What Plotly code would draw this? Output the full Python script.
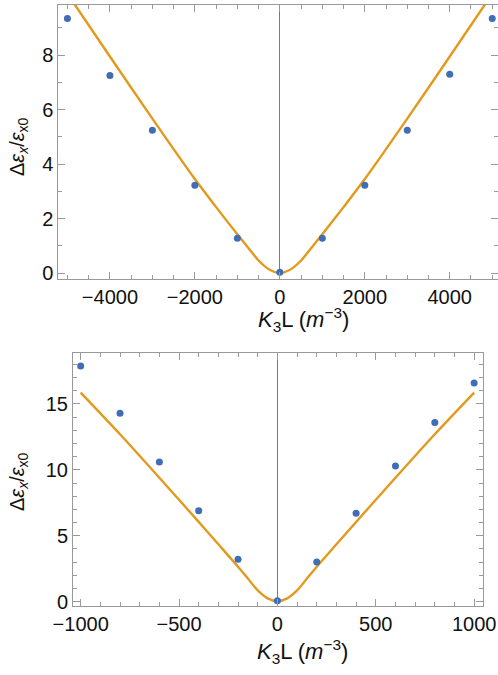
import plotly.graph_objects as go

# ---- data ----
k_top = [-5000, -4000, -3000, -2000, -1000, 0, 1000, 2000, 3000, 4000, 5000]
eps_top = [9.34, 7.25, 5.24, 3.22, 1.28, 0.03, 1.28, 3.22, 5.24, 7.30, 9.34]

fit_top_k = [-5000, -4000, -3000, -2000, -1500, -1000, -750, -500, -250, 0,
             250, 500, 750, 1000, 1500, 2000, 3000, 4000, 5000]
fit_top_eps = [10.25, 7.95, 5.67, 3.45, 2.42, 1.42, 0.94, 0.46, 0.13, 0.0,
               0.13, 0.46, 0.94, 1.42, 2.42, 3.45, 5.67, 7.95, 10.25]

k_bot = [-1000, -800, -600, -400, -200, 0, 200, 400, 600, 800, 1000]
eps_bot = [17.88, 14.29, 10.6, 6.9, 3.22, 0.06, 3.01, 6.7, 10.3, 13.6, 16.6]

fit_bot_k = [-1000, -800, -600, -400, -300, -200, -150, -100, -50, 0,
             50, 100, 150, 200, 300, 400, 600, 800, 1000]
fit_bot_eps = [15.86, 12.7, 9.4, 6.05, 4.35, 2.65, 1.75, 0.85, 0.25, 0.03,
               0.25, 0.85, 1.75, 2.65, 4.35, 6.05, 9.4, 12.7, 15.86]

top_xticks = [-4000, -2000, 0, 2000, 4000]
top_yticks = [0, 2, 4, 6, 8]
bot_xticks = [-1000, -500, 0, 500, 1000]
bot_yticks = [0, 5, 10, 15]

xtitle = "<i>K</i><sub>3</sub>L (<i>m</i><sup>−3</sup>)"
ytitle = "Δ<i>ε</i><sub><i>x</i></sub>/<i>ε</i><sub>x0</sub>"

W, H = 498, 675
FONT = "Liberation Sans, Arial, sans-serif"
FRAME = "#9a9a9a"
LINE_C = "#E39A1C"
DOT_C = "#3F6DB6"

fig = go.Figure()
fig.add_trace(go.Scatter(x=fit_top_k, y=fit_top_eps, mode="lines",
                         line=dict(color=LINE_C, width=2.4, shape="spline", smoothing=0.8),
                         xaxis="x", yaxis="y", showlegend=False))
fig.add_trace(go.Scatter(x=k_top, y=eps_top, mode="markers",
                         marker=dict(color=DOT_C, size=7),
                         xaxis="x", yaxis="y", showlegend=False, cliponaxis=False))
fig.add_trace(go.Scatter(x=fit_bot_k, y=fit_bot_eps, mode="lines",
                         line=dict(color=LINE_C, width=2.4, shape="spline", smoothing=0.8),
                         xaxis="x2", yaxis="y2", showlegend=False))
fig.add_trace(go.Scatter(x=k_bot, y=eps_bot, mode="markers",
                         marker=dict(color=DOT_C, size=7),
                         xaxis="x2", yaxis="y2", showlegend=False, cliponaxis=False))


def ax(domain, rng, ticks, minor_dtick, anchor, zeroline=False):
    return dict(
        domain=domain, range=rng, anchor=anchor, automargin=False,
        tickmode="array", tickvals=ticks,
        ticks="inside", ticklen=7, tickwidth=1, tickcolor=FRAME,
        minor=dict(dtick=minor_dtick, ticks="inside", ticklen=4,
                   tickwidth=1, tickcolor=FRAME, showgrid=False),
        showline=True, linecolor=FRAME, linewidth=1, mirror="ticks",
        showgrid=False, zeroline=zeroline, zerolinecolor="#7a7a7a", zerolinewidth=1,
        tickfont=dict(family=FONT, size=20, color="#111"),
    )


# pixel geometry
def px_x(p):
    return p / W


def px_y(p):
    return 1 - p / H


layout = dict(
    width=W, height=H, margin=dict(l=0, r=0, t=0, b=0, autoexpand=False),
    paper_bgcolor="white", plot_bgcolor="white",
    xaxis=ax([px_x(58.3), 1.0], [-5215, 5136], top_xticks, 500, "y", zeroline=True),
    yaxis=ax([px_y(279.3), px_y(4.7)], [-0.23, 9.85], top_yticks, 1, "x"),
    xaxis2=ax([px_x(73), px_x(483)], [-1039, 1045], bot_xticks, 100, "y2", zeroline=True),
    yaxis2=ax([px_y(606), px_y(352.7)], [-0.33, 18.89], bot_yticks, 1, "x2"),
)
fig.update_layout(**layout)

xt_font = dict(family=FONT, size=22, color="#111")
yt_font = dict(family=FONT, size=20, color="#111")
common = dict(xref="paper", yref="paper", showarrow=False,
              xanchor="center", yanchor="middle")
fig.add_annotation(x=px_x(303), y=px_y(319), text=xtitle, font=xt_font, **common)
fig.add_annotation(x=px_x(302), y=px_y(651), text=xtitle, font=xt_font, **common)
fig.add_annotation(x=px_x(19), y=px_y(147), text=ytitle, textangle=-90, font=yt_font, **common)
fig.add_annotation(x=px_x(18), y=px_y(482), text=ytitle, textangle=-90, font=yt_font, **common)

fig.write_html("out.html", config={"displayModeBar": False},
               post_script="document.body.style.margin='0';document.body.style.overflow='hidden';")
